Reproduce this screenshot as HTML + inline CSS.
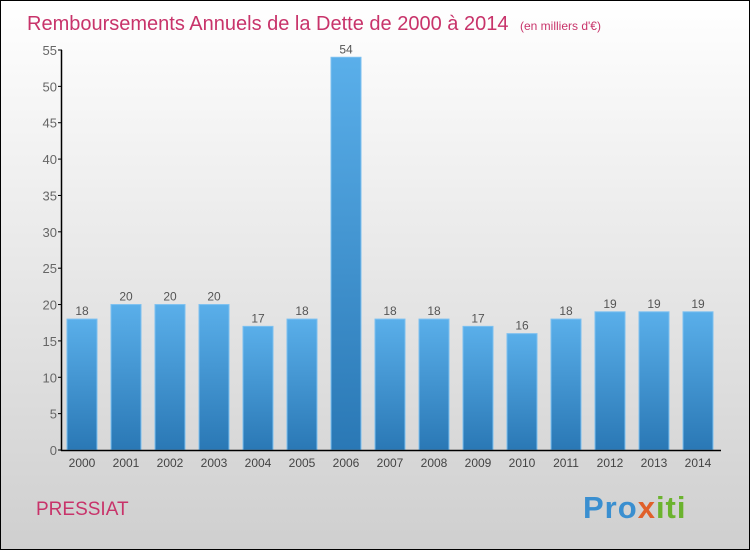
<!DOCTYPE html>
<html><head><meta charset="utf-8"><style>
body{margin:0}
#c{width:748px;height:548px;border:1px solid #000;background:linear-gradient(#fff,#cfcfcf);position:relative;font-family:"Liberation Sans",sans-serif;overflow:hidden}
</style></head><body>
<div id="c">
<svg id="s" width="748" height="548" style="position:absolute;left:0;top:0">
<defs><linearGradient id="g" x1="0" y1="0" x2="0" y2="1"><stop offset="0" stop-color="#5aafea"/><stop offset="1" stop-color="#2a78b5"/></linearGradient></defs>
<text x="26" y="29" font-size="20" fill="#c8336a">Remboursements Annuels de la Dette de 2000 à 2014 <tspan font-size="12" dx="6">(en milliers d'€)</tspan></text>
<text x="35" y="514" font-size="19" fill="#c8336a">PRESSIAT</text>
<text x="582" y="517" font-size="31" font-weight="bold" letter-spacing="1" fill="#3a8fd0">Pro<tspan fill="#e0602a">x</tspan><tspan fill="#6bb32e">iti</tspan></text>
<g id="plot"></g>
</svg>
</div>
<script>
const years=["2000","2001","2002","2003","2004","2005","2006","2007","2008","2009","2010","2011","2012","2013","2014"];
const values=[18,20,20,20,17,18,54,18,18,17,16,18,19,19,19];
const yTicks=[0,5,10,15,20,25,30,35,40,45,50,55];
const ns="http://www.w3.org/2000/svg",p=document.getElementById('plot');
const y=v=>449-v*400/55, x=i=>81+i*44;
function mk(t,a,txt){const e=document.createElementNS(ns,t);for(const k in a)e.setAttribute(k,a[k]);if(txt!=null)e.textContent=txt;p.appendChild(e);return e;}
values.forEach((v,i)=>{
 const r=mk('rect',{x:x(i)-15,y:y(v),width:30,height:449-y(v),fill:'url(#g)',stroke:'#7cc0f0','stroke-width':1});
 
 
 const l=mk('text',{x:x(i),y:y(v)-4,'font-size':12,fill:'#555','text-anchor':'middle'},v);
 
 
 const t=mk('text',{x:x(i),y:466,'font-size':12,fill:'#444','text-anchor':'middle'},years[i]);
 
 
});
yTicks.forEach(v=>{
 const tk=mk('line',{x1:57,x2:61,y1:y(v),y2:y(v),stroke:'#000'});
 
 
 const t=mk('text',{x:56,y:y(v)+5,'font-size':13,fill:'#666','text-anchor':'end'},v);
 
 
});
const ya=mk('line',{x1:60.5,x2:60.5,y1:y(55),y2:450,stroke:'#000','stroke-width':1.5});


const xa=mk('line',{x1:60,x2:720,y1:449.5,y2:449.5,stroke:'#000','stroke-width':1.5});


</script>
</body></html>
